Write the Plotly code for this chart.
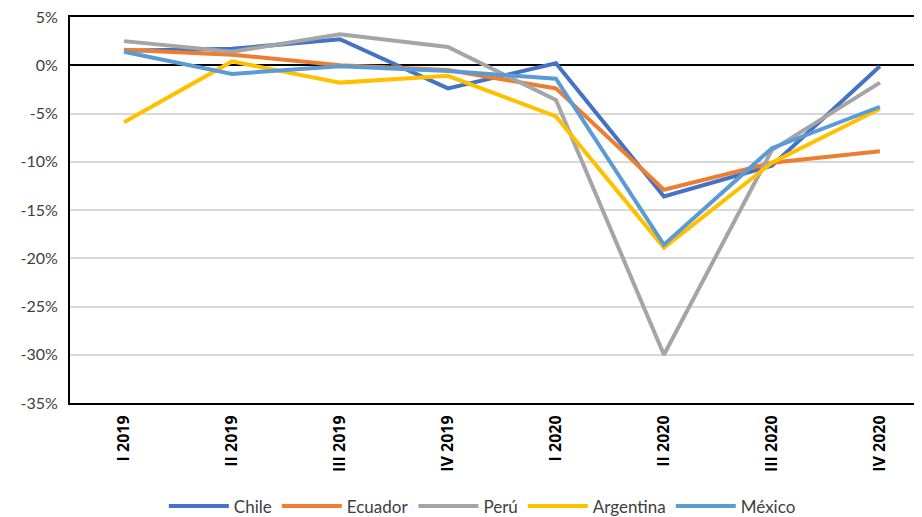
import plotly.graph_objects as go

# Quarters (x axis)
quarters = ["I 2019", "II 2019", "III 2019", "IV 2019",
            "I 2020", "II 2020", "III 2020", "IV 2020"]

# Quarterly growth, %
chile = [1.5, 1.7, 2.7, -2.4, 0.2, -13.6, -10.4, -0.1]
ecuador = [1.6, 1.1, 0.0, -0.5, -2.4, -12.9, -10.1, -8.9]
peru = [2.5, 1.4, 3.2, 1.9, -3.6, -30.0, -8.8, -1.8]
argentina = [-5.9, 0.4, -1.8, -1.1, -5.3, -18.9, -10.1, -4.5]
mexico = [1.4, -0.9, -0.1, -0.6, -1.4, -18.6, -8.6, -4.3]

y_ticks = [5, 0, -5, -10, -15, -20, -25, -30, -35]
y_labels = ["5%", "0%", "-5%", "-10%", "-15%", "-20%", "-25%", "-30%", "-35%"]

series = [
    ("Chile", chile, "#4472C4"),
    ("Ecuador", ecuador, "#ED7D31"),
    ("Perú", peru, "#A5A5A5"),
    ("Argentina", argentina, "#FFC000"),
    ("México", mexico, "#5B9BD5"),
]

fig = go.Figure()
for name, vals, color in series:
    fig.add_trace(go.Scatter(
        x=list(range(len(quarters))), y=vals, name=name, mode="lines",
        line=dict(color=color, width=4),
    ))

# the page body adds an 8px margin, so the figure is a bit smaller
fig.update_layout(
    width=914, height=509,
    margin=dict(l=62, r=0, t=9, b=114, autoexpand=False),
    plot_bgcolor="white", paper_bgcolor="white",
    font=dict(family="Lato, Open Sans, sans-serif", size=15, color="#404040"),
    showlegend=True,
    legend=dict(orientation="h", x=0.484, xanchor="center", y=-0.268,
                yanchor="middle", font=dict(size=17, color="#404040"),
                itemwidth=60, tracegroupgap=0),
)

fig.update_xaxes(
    range=[-0.5, 7.39],
    tickvals=list(range(len(quarters))), ticktext=quarters,
    tickangle=-90, automargin=False,
    tickfont=dict(size=16, color="black", family="Open Sans, sans-serif", weight="bold"),
    showgrid=False, zeroline=False,
    showline=True, linecolor="black", linewidth=2, mirror=True,
    ticks="", ticklabelstandoff=4,
)

fig.update_yaxes(
    range=[-35, 5], automargin=False,
    tickvals=y_ticks, ticktext=y_labels,
    showgrid=True, gridcolor="#D9D9D9", gridwidth=1.5,
    zeroline=True, zerolinecolor="black", zerolinewidth=2,
    showline=True, linecolor="black", linewidth=2, mirror=False,
    ticks="", ticklabelstandoff=7, ticklabeloverflow="allow",
    tickfont=dict(size=16, color="#404040"),
)

fig.write_html("out.html")
